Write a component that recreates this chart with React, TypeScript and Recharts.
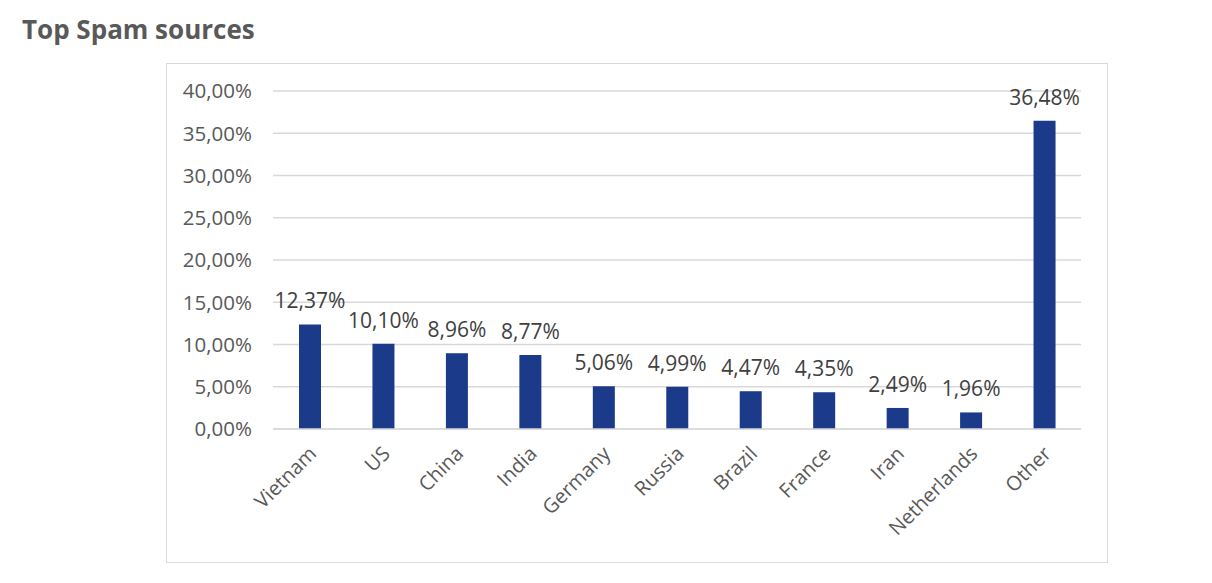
import React from 'react';
import { BarChart, Bar, XAxis, YAxis, CartesianGrid, LabelList } from 'recharts';

const countries = ['Vietnam', 'US', 'China', 'India', 'Germany', 'Russia', 'Brazil', 'France', 'Iran', 'Netherlands', 'Other'];
const shares = [12.37, 10.1, 8.96, 8.77, 5.06, 4.99, 4.47, 4.35, 2.49, 1.96, 36.48];
const yTicks = [0, 5, 10, 15, 20, 25, 30, 35, 40];

const chartData = countries.map((name, i) => ({ name, share: shares[i] }));

const fmt = (v: number) => v.toFixed(2).replace('.', ',') + '%';

const font = '"Open Sans", sans-serif';

const AngledTick = (props: any) => {
  const { x, y, payload } = props;
  const tx = x + 8;
  const ty = y + 18;
  return (
    <text
      x={tx}
      y={ty}
      textAnchor="end"
      fill="#595959"
      fontSize={20}
      fontFamily={font}
      transform={`rotate(-45, ${tx}, ${ty})`}
    >
      {payload.value}
    </text>
  );
};

const App: React.FC = () => {
  return (
    <div style={{ position: 'relative', width: 1212, height: 583, margin: -8, background: '#fff' }}>
      <div
        style={{
          position: 'absolute',
          left: 22,
          top: 11,
          fontFamily: font,
          fontWeight: 700,
          fontSize: 26,
          color: '#595959',
        }}
      >
        Top Spam sources
      </div>
      <div
        style={{
          position: 'absolute',
          left: 166,
          top: 63,
          width: 940,
          height: 498,
          border: '1px solid #d9d9d9',
        }}
      >
        <BarChart
          width={940}
          height={498}
          data={chartData}
          margin={{ top: 27, right: 26, left: 0, bottom: 13 }}
          barCategoryGap={0}
        >
          <CartesianGrid vertical={false} stroke="#d9d9d9" strokeWidth={1.5} />
          <XAxis
            dataKey="name"
            interval={0}
            height={120}
            tickLine={false}
            axisLine={{ stroke: '#d9d9d9', strokeWidth: 1.5 }}
            tick={<AngledTick />}
          />
          <YAxis
            width={106}
            domain={[0, 40]}
            ticks={yTicks}
            tickFormatter={fmt}
            axisLine={false}
            tickLine={false}
            tickSize={0}
            tickMargin={21}
            tick={{ fill: '#595959', fontSize: 20.5, fontFamily: font }}
          />
          <Bar dataKey="share" fill="#1b3a8a" barSize={22} isAnimationActive={false}>
            <LabelList
              dataKey="share"
              position="top"
              offset={16}
              formatter={(v: any) => fmt(Number(v))}
              fill="#404040"
              fontSize={21}
              fontFamily={font}
            />
          </Bar>
        </BarChart>
      </div>
    </div>
  );
};

export default App;
